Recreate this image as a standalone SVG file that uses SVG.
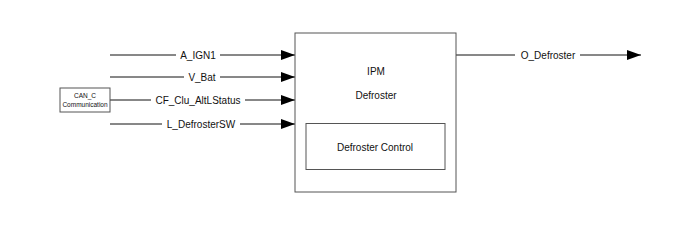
<svg xmlns="http://www.w3.org/2000/svg" width="700" height="226" viewBox="0 0 700 226">
<style>
text{font-family:"Liberation Sans",Arial,sans-serif;font-size:10px;fill:#111}
.ln{stroke:#111;stroke-width:1;fill:none}
.bx{fill:#fff;stroke:#555;stroke-width:1}
.sm{font-size:6.5px}
</style>
<defs>
<marker id="ah" markerWidth="14" markerHeight="10" refX="14" refY="5" orient="auto" markerUnits="userSpaceOnUse">
<path d="M0,0 L14,5 L0,10 Z" fill="#000"/>
</marker>
</defs>
<rect width="700" height="226" fill="#fff"/>
<g id="connectors">
<line class="ln" x1="110" y1="55" x2="176" y2="55"/>
<line class="ln" x1="220" y1="55" x2="295" y2="55" marker-end="url(#ah)"/>
<line class="ln" x1="110" y1="77" x2="184" y2="77"/>
<line class="ln" x1="220" y1="77" x2="295" y2="77" marker-end="url(#ah)"/>
<line class="ln" x1="110" y1="100" x2="151" y2="100"/>
<line class="ln" x1="245" y1="100" x2="295" y2="100" marker-end="url(#ah)"/>
<line class="ln" x1="110" y1="124" x2="162" y2="124"/>
<line class="ln" x1="240" y1="124" x2="295" y2="124" marker-end="url(#ah)"/>
<line class="ln" x1="456" y1="55" x2="515" y2="55"/>
<line class="ln" x1="580" y1="55" x2="641" y2="55" marker-end="url(#ah)"/>
<text x="198" y="58.5" text-anchor="middle">A_IGN1</text>
<text x="202" y="80.5" text-anchor="middle">V_Bat</text>
<text x="198" y="103.5" text-anchor="middle">CF_Clu_AltLStatus</text>
<text x="201" y="127.5" text-anchor="middle">L_DefrosterSW</text>
<text x="548" y="58.5" text-anchor="middle">O_Defroster</text>
</g>
<g id="can">
<rect class="bx" x="60" y="88" width="50" height="24"/>
<text class="sm" x="85" y="98" text-anchor="middle">CAN_C</text>
<text class="sm" x="85" y="107" text-anchor="middle">Communication</text>
</g>
<g id="ipm">
<rect class="bx" x="295" y="33" width="161" height="159"/>
<text x="376" y="75" text-anchor="middle">IPM</text>
<text x="376" y="99" text-anchor="middle">Defroster</text>
</g>
<g id="control">
<rect class="bx" x="306" y="123.5" width="139" height="46"/>
<text x="375" y="151" text-anchor="middle">Defroster Control</text>
</g>
</svg>
